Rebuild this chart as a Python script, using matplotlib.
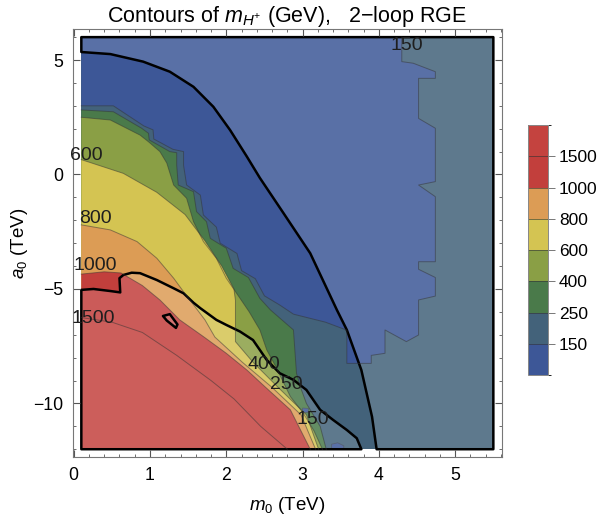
import numpy as np
import matplotlib as mpl
import matplotlib.pyplot as plt
from matplotlib.patches import Polygon
from matplotlib.colors import ListedColormap, BoundaryNorm

plt.rcParams['font.family'] = ['Liberation Sans', 'DejaVu Sans']
plt.rcParams['mathtext.fontset'] = 'custom'
plt.rcParams['mathtext.rm'] = 'Liberation Sans'
plt.rcParams['mathtext.it'] = 'Liberation Sans:italic'

levels = [150, 250, 400, 600, 800, 1000, 1500]
colors = ['#3d5797', '#43627a', '#4a7a4a', '#8a9f45',
          '#d4c452', '#dc9c55', '#c23f3c', '#c4433f']

m0_min, m0_max = 0.1, 5.5
a0_min, a0_max = -12.0, 6.0

# contour lines, (m0, a0) in TeV, from the left edge to the bottom edge
line_250 = [(0.1, 2.82), (0.52, 2.74), (0.89, 2.02), (0.98, 1.8), (0.99, 1.51), (1.26, 1.0),
            (1.35, 0.95), (1.35, 0.41), (1.37, -0.46), (1.57, -0.75), (1.61, -1.62), (1.74, -2.06),
            (1.79, -2.79), (2.0, -3.22), (2.09, -4.1), (2.29, -4.5), (2.44, -5.41), (2.58, -5.92),
            (2.88, -6.79), (2.92, -8.68), (2.97, -9.27), (3.05, -10.0), (3.23, -11.0), (3.31, -12.0)]
line_400 = [(0.1, 2.5), (0.48, 2.38), (0.87, 1.72), (0.98, 1.43), (1.13, 1.0), (1.22, 0.5),
            (1.31, -0.46), (1.48, -1.04), (1.57, -2.06), (1.70, -2.93), (1.87, -3.66), (2.0, -4.53),
            (2.18, -5.41), (2.3, -6.0), (2.44, -6.79), (2.53, -7.66), (2.65, -8.4), (2.84, -9.7),
            (3.01, -10.43), (3.15, -11.2), (3.26, -12.0)]
line_600 = [(0.1, 0.65), (0.65, 0.05), (1.09, -0.78), (1.46, -1.75), (1.72, -2.9), (1.94, -4.0),
            (2.1, -5.0), (2.12, -5.5), (2.12, -7.3), (2.35, -8.2), (2.68, -9.3), (3.05, -10.5),
            (3.21, -12.0)]
line_800 = [(0.1, -2.2), (0.48, -2.42), (0.83, -2.93), (1.09, -3.66), (1.31, -4.53), (1.44, -5.12),
            (1.55, -5.6), (1.72, -6.35), (1.85, -7.1), (2.21, -8.2), (2.6, -9.3), (2.98, -10.5),
            (3.17, -12.0)]
line_1000 = [(0.1, -4.35), (0.4, -4.25), (0.62, -4.3), (0.9, -4.85), (1.13, -5.48), (1.39, -6.35),
             (1.70, -7.08), (2.0, -7.81), (2.27, -8.54), (2.5, -9.25), (2.84, -10.28), (3.1, -12.0)]
line_1500 = [(0.1, -6.25), (0.5, -6.45), (0.9, -6.9), (1.35, -7.9), (1.8, -9.0), (2.1, -9.8),
             (2.45, -11.0), (2.8, -12.0)]

# region below 150 GeV (upper middle), boundary from the left edge round to the top edge
blue_region = [(0.1, 3.0), (0.52, 3.0), (0.92, 2.12), (1.04, 1.95), (1.05, 1.55), (1.3, 1.1),
               (1.44, 1.0), (1.44, 0.4), (1.48, -0.46), (1.66, -0.9), (1.70, -1.77), (1.87, -2.3),
               (1.92, -3.0), (2.14, -3.45), (2.2, -4.2), (2.38, -4.55), (2.5, -5.3), (2.7, -5.7),
               (2.88, -6.1), (3.3, -6.45), (3.58, -6.8), (3.58, -8.25), (3.9, -8.25), (3.9, -7.9),
               (4.08, -7.81), (4.08, -6.79), (4.36, -7.3), (4.52, -7.01), (4.52, -5.48),
               (4.74, -5.31), (4.74, -4.5), (4.52, -4.14), (4.52, -3.81), (4.74, -3.81),
               (4.74, -0.97), (4.52, -0.46), (4.74, -0.31), (4.74, 2.02), (4.52, 2.45),
               (4.52, 4.2), (4.74, 4.2), (4.74, 4.49), (4.45, 4.86), (4.30, 4.93), (4.30, 6.0)]
blue_islands = [[(3.0, -10.2), (3.08, -10.22), (3.07, -10.4), (3.0, -10.38)],
                [(3.38, -12.0), (3.38, -11.78), (3.46, -11.72), (3.54, -11.85), (3.54, -12.0)]]

# thick black boundaries of the excluded regions
upper_bound = [(0.1, 5.35), (0.48, 5.26), (0.91, 4.93), (1.26, 4.49), (1.57, 3.83), (1.83, 2.96),
               (2.05, 1.94), (2.27, 0.78), (2.44, -0.15), (2.75, -1.69), (3.10, -3.44),
               (3.45, -5.92), (3.58, -6.79), (3.77, -8.54), (3.91, -10.58), (3.97, -12.0)]
lower_bound = [(0.1, -5.04), (0.26, -5.0), (0.48, -5.09), (0.61, -5.15), (0.60, -4.53),
               (0.65, -4.39), (0.76, -4.29), (0.87, -4.31), (1.09, -4.61), (1.31, -4.97),
               (1.44, -5.19), (1.57, -5.6), (1.66, -5.84), (1.87, -6.35), (2.0, -6.57),
               (2.18, -6.86), (2.35, -7.23), (2.53, -8.1), (2.70, -8.68), (2.88, -8.97),
               (3.05, -9.41), (3.23, -10.28), (3.40, -10.72), (3.58, -11.16), (3.71, -11.52),
               (3.77, -12.0)]
small_loop = [(1.17, -6.18), (1.26, -6.1), (1.36, -6.55), (1.34, -6.7), (1.22, -6.38)]

contour_labels = [('150', 4.36, 5.65), ('600', 0.17, 0.85), ('800', 0.28, -1.94),
                  ('1000', 0.28, -3.98), ('1500', 0.26, -6.28), ('400', 2.49, -8.32),
                  ('250', 2.79, -9.19), ('150', 3.14, -10.7)]


def below_left(line):
    return list(line) + [(m0_min, a0_min)]


fig = plt.figure(figsize=(6.02, 5.15), dpi=100)
ax = fig.add_axes([0.1214, 0.1117, 0.7118, 0.8322])

box = [(m0_min, a0_min), (m0_max, a0_min), (m0_max, a0_max), (m0_min, a0_max)]
ax.add_patch(Polygon(box, closed=True, fc=colors[1], lw=0))
ax.add_patch(Polygon(blue_region + [(m0_min, a0_max)], closed=True, fc=colors[0], lw=0))
for line, c in zip([line_250, line_400, line_600, line_800, line_1000, line_1500], colors[2:]):
    ax.add_patch(Polygon(below_left(line), closed=True, fc=c, lw=0))
for isl in blue_islands:
    ax.add_patch(Polygon(isl, closed=True, fc=colors[0], ec=(0.2, 0.2, 0.2, 0.5), lw=0.6))

# thin contour lines
thin = dict(color=(0.2, 0.2, 0.2), alpha=0.5, lw=0.7)
for line in [line_250, line_400, line_600, line_800, line_1000, line_1500, blue_region]:
    xs, ys = zip(*line)
    ax.plot(xs, ys, **thin)

# excluded regions: light veil with black outline
upper_excl = upper_bound + [(m0_max, a0_min), (m0_max, a0_max), (m0_min, a0_max)]
lower_excl = lower_bound + [(m0_min, a0_min)]
for poly in [upper_excl, lower_excl, small_loop]:
    ax.add_patch(Polygon(poly, closed=True, fc=(1, 1, 1, 0.15), ec='black', lw=1.8,
                         joinstyle='round'))

for txt, x, y in contour_labels:
    ax.text(x, y, txt, fontsize=14, color='#1e1e1e', ha='center', va='center')

pad_x = 0.02 * (m0_max - m0_min)
pad_y = 0.02 * (a0_max - a0_min)
ax.set_xlim(m0_min - pad_x, m0_max + pad_x)
ax.set_ylim(a0_min - pad_y, a0_max + pad_y)
ax.set_xticks(range(0, 6))
ax.set_xticks(np.arange(0, 5.61, 0.2), minor=True)
ax.set_yticks([-10, -5, 0, 5])
ax.set_yticks(range(-12, 7), minor=True)
ax.tick_params(which='both', direction='in', top=True, right=True, color='#555555',
               labelsize=12.7, pad=7)
ax.tick_params(which='major', length=5, width=0.8)
ax.tick_params(which='minor', length=2.5, width=0.6)
for sp in ax.spines.values():
    sp.set_color('#777777')
    sp.set_linewidth(0.8)

ax.set_xlabel(r'$m_0$ (TeV)', fontsize=13.5, labelpad=8)
ax.set_ylabel(r'$a_0$ (TeV)', fontsize=13.5, labelpad=2)
ax.set_title(r'Contours of $m_{H^{+}}$ (GeV),   2$-$loop RGE', fontsize=15.5, pad=3)

cax = fig.add_axes([0.877, 0.2718, 0.0332, 0.4854])
bounds = [100] + levels + [2000]
cb = mpl.colorbar.ColorbarBase(cax, cmap=ListedColormap(colors), norm=BoundaryNorm(bounds, 8),
                               boundaries=bounds, spacing='uniform', ticks=levels,
                               drawedges=True)
cb.dividers.set_color((0.2, 0.2, 0.2, 0.6))
cb.dividers.set_linewidth(0.7)
cb.outline.set_edgecolor('#888888')
cb.outline.set_linewidth(0.7)
cax.tick_params(length=5, width=0.7, color='#777777', labelsize=12.5, pad=3)

fig.savefig('out.png', dpi=100)
